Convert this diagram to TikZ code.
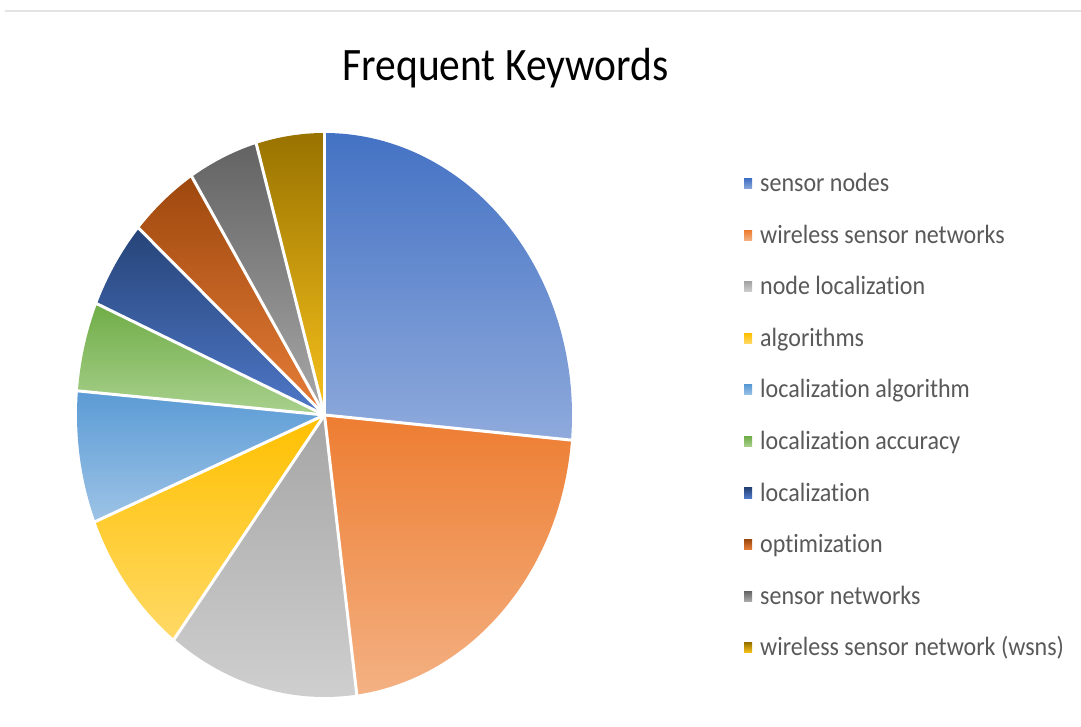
\documentclass[tikz,border=0pt]{standalone}
\usepackage{fontspec}
\setmainfont{Carlito}[RawFeature=-liga,RawFeature=-clig,RawFeature=-calt,RawFeature=-dlig]
\definecolor{txt}{HTML}{595959}
\definecolor{rule}{HTML}{E3E3E3}
\definecolor{aT}{HTML}{4472C4}\definecolor{aB}{HTML}{8FAADC}
\definecolor{bT}{HTML}{ED7D31}\definecolor{bB}{HTML}{F4B183}
\definecolor{cT}{HTML}{A5A5A5}\definecolor{cB}{HTML}{D0D0D0}
\definecolor{dT}{HTML}{FFC000}\definecolor{dB}{HTML}{FFD966}
\definecolor{eT}{HTML}{5B9BD5}\definecolor{eB}{HTML}{9DC3E6}
\definecolor{fT}{HTML}{70AD47}\definecolor{fB}{HTML}{A9D18E}
\definecolor{gT}{HTML}{264478}\definecolor{gB}{HTML}{4F78C8}
\definecolor{hT}{HTML}{9E480E}\definecolor{hB}{HTML}{E67D38}
\definecolor{iT}{HTML}{636363}\definecolor{iB}{HTML}{A8A8A8}
\definecolor{jT}{HTML}{997300}\definecolor{jB}{HTML}{F8C21C}
\newcommand\pieslice[4]{\shade[top color=#3,bottom color=#4] (C) -- ++({247.5*cos(#1)},{282*sin(#1)}) arc[start angle=#1,end angle=#2,x radius=247.5,y radius=282] -- cycle;}
\newcommand\legrow[4]{%
  \shade[top color=#2,bottom color=#3] (744,{726-179-51.5*(#1)}) rectangle (752,{726-189-51.5*(#1)});
  \node[legtext] (leg#1) at (760,{726-192-51.5*(#1)}) {\scalebox{1}[1.1]{#4}};}
\begin{document}
\begin{tikzpicture}[x=1pt,y=1pt,
  legtext/.style={anchor=base west,inner sep=0pt,text=txt,font=\fontsize{24}{28}\selectfont},
  sep/.style={white,line width=3pt}]
\useasboundingbox (0,0) rectangle (1081,726);
\fill[white] (0,0) rectangle (1081,726);
\draw[rule,line width=2pt] (5,715) -- (1081,715);
\node[anchor=base,inner sep=0pt,font=\fontsize{41.5}{48}\selectfont] (title) at (505.5,645) {\scalebox{1}[1.12]{Frequent Keywords}};
\coordinate (C) at (324.5,311);
\pieslice{90}{-5.1}{aT}{aB}
\pieslice{-5.1}{-82.5}{bT}{bB}
\pieslice{-82.5}{-127.4}{cT}{cB}
\pieslice{-127.4}{-157.8}{dT}{dB}
\pieslice{-157.8}{-184.9}{eT}{eB}
\pieslice{-184.9}{-203.2}{fT}{fB}
\pieslice{-203.2}{-221.4}{gT}{gB}
\pieslice{-221.4}{-237.6}{hT}{hB}
\pieslice{-237.6}{-254}{iT}{iB}
\pieslice{-254}{-270}{jT}{jB}
\foreach \a in {90,-5.1,-82.5,-127.4,-157.8,-184.9,-203.2,-221.4,-237.6,-254}
  \draw[sep] (C) -- ++({250*cos(\a)},{285*sin(\a)});
\legrow{0}{aT}{aB}{sensor nodes}
\legrow{1}{bT}{bB}{wireless sensor networks}
\legrow{2}{cT}{cB}{node localization}
\legrow{3}{dT}{dB}{algorithms}
\legrow{4}{eT}{eB}{localization algorithm}
\legrow{5}{fT}{fB}{localization accuracy}
\legrow{6}{gT}{gB}{localization}
\legrow{7}{hT}{hB}{optimization}
\legrow{8}{iT}{iB}{sensor networks}
\legrow{9}{jT}{jB}{wireless sensor network (wsns)}
\end{tikzpicture}
\end{document}
